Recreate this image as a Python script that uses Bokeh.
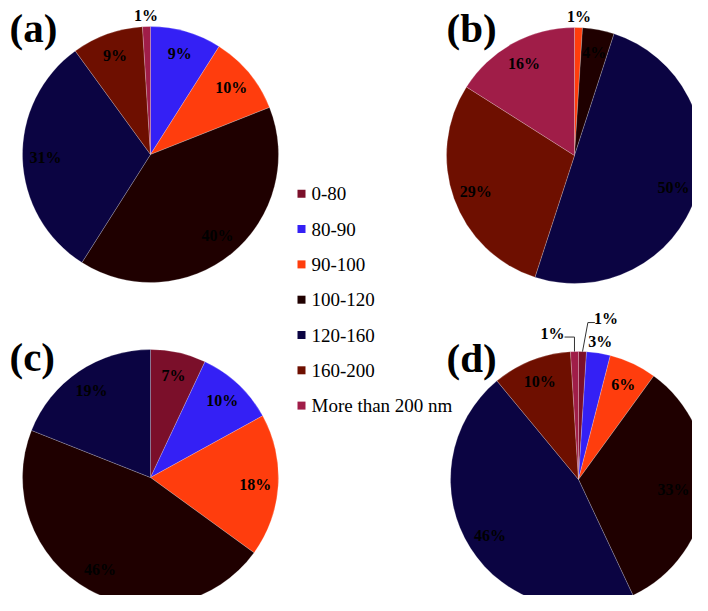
import numpy as np
from bokeh.plotting import figure
from bokeh.models import Range1d
from bokeh.core.properties import value
from bokeh.embed import file_html
from bokeh.resources import INLINE

# ---------------- data ----------------
categories = ["0-80", "80-90", "90-100", "100-120", "120-160", "160-200", "More than 200 nm"]
panel_names = ["(a)", "(b)", "(c)", "(d)"]
share_a = [0, 9, 10, 40, 31, 9, 1]
share_b = [0, 0, 1, 4, 50, 29, 16]
share_c = [7, 10, 18, 46, 19, 0, 0]
share_d = [1, 3, 6, 33, 46, 10, 1]
shares = [share_a, share_b, share_c, share_d]

# ---------------- style / layout ----------------
colors = ["#7B0F2A", "#3420F5", "#FF3D0D", "#1F0000", "#0B0442", "#6E0F00", "#A01D48"]
W, H = 692, 595          # figure size
PH = 611                 # reference picture height (pixel y -> data y)
centers = [(150, 154), (574, 155), (150, 477), (578, 479)]
R = 128
panel_label_pos = [(9, 27), (446, 27), (9, 356), (446, 357.5)]
# label offsets (px) for crowded small slices, with leader lines
offsets = {(3, 0): (23, -21.5, "right"), (3, 6): (-21.6, -6.5, "left")}

SERIF = value("Liberation Serif, serif")


def Y(py):
    return PH - py


p = figure(width=W, height=H,
           x_range=Range1d(0, W), y_range=Range1d(PH - H, PH),
           x_axis_type=None, y_axis_type=None,
           output_backend="svg", toolbar_location=None, min_border=0)
p.grid.visible = False
p.outline_line_color = None
p.background_fill_color = "white"

for k, vals in enumerate(shares):
    cx, cy = centers[k]
    total = float(sum(vals))
    cum = 0.0
    lx, ly, lt = [], [], []
    for i, v in enumerate(vals):
        if v == 0:
            continue
        f0 = cum / total
        f1 = (cum + v) / total
        cum += v
        p.wedge(x=cx, y=Y(cy), radius=R,
                start_angle=np.pi / 2 - 2 * np.pi * f1,
                end_angle=np.pi / 2 - 2 * np.pi * f0,
                fill_color=colors[i], line_color="white", line_alpha=0.35, line_width=0.6)
        th = 2 * np.pi * (f0 + f1) / 2
        r = 0.82 * R if v >= 4 else 1.09 * R
        x = cx + r * np.sin(th)
        y = cy - r * np.cos(th)
        if (k, i) in offsets:
            dx, dy, side = offsets[(k, i)]
            x += dx
            y += dy
            ex = cx + R * np.sin(th)
            ey = cy - R * np.cos(th)
            if side == "right":
                xs = [ex, x - 18, x - 11]
                ys = [ey, y + 4, y + 4]
            else:
                xs = [ex, ex, x + 12]
                ys = [ey, y + 3.5, y + 3.5]
            p.line(x=xs, y=[Y(t) for t in ys], line_color="#333333", line_width=1)
        x = min(x, W - 19)   # keep labels inside the canvas
        lx.append(x)
        ly.append(Y(y))
        lt.append(f"{v}%")
    p.text(x=lx, y=ly, text=lt, text_font=SERIF, text_font_style="bold",
           text_font_size="16px", text_align="center", text_baseline="middle",
           text_color="black")

# panel letters
p.text(x=[q[0] for q in panel_label_pos], y=[Y(q[1]) for q in panel_label_pos],
       text=panel_names, text_font=SERIF, text_font_style="bold",
       text_font_size="41px", text_align="left", text_baseline="middle", text_color="black")

# legend
leg_y = [Y(193.3 + i * 35.3) for i in range(len(categories))]
p.scatter(x=[301] * len(categories), y=leg_y, marker="square", size=8,
          fill_color=colors, line_color=None)
p.text(x=[311] * len(categories), y=leg_y, text=categories, text_font=SERIF,
       text_font_style="normal",
       text_font_size="19px", text_align="left", text_baseline="middle", text_color="black")

open("out.html", "w").write(file_html(p, INLINE))
